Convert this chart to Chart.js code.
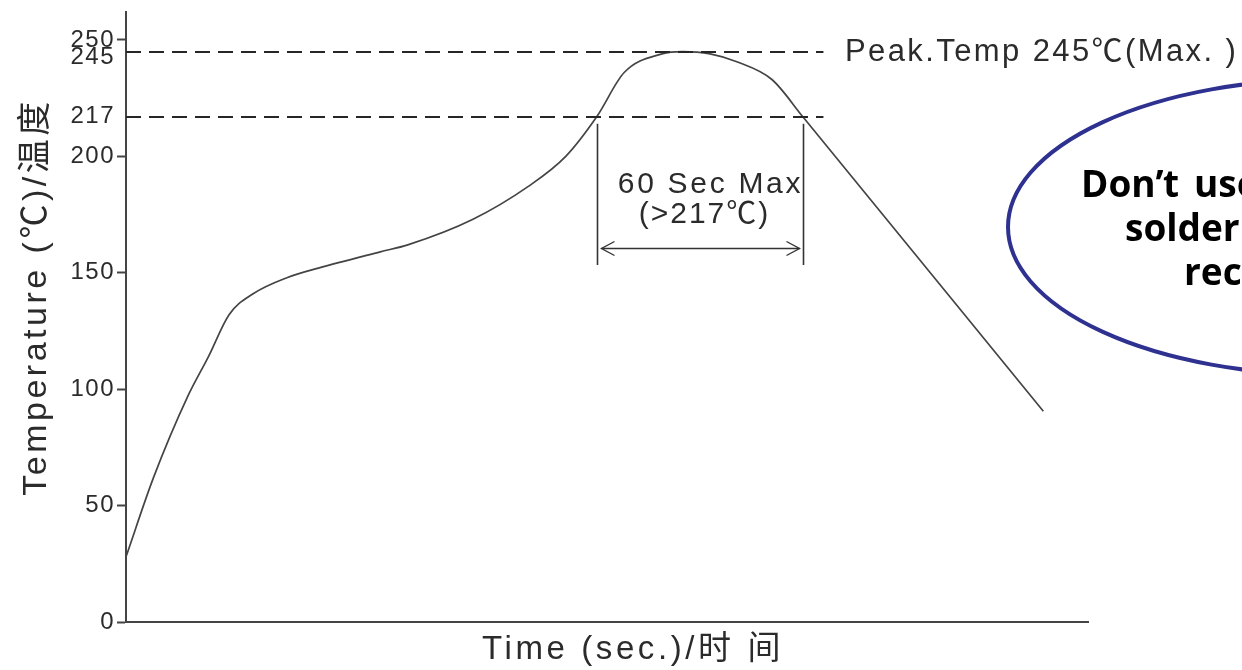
<!DOCTYPE html>
<html>
<head>
<meta charset="utf-8">
<title>Reflow profile</title>
<script src="https://cdn.jsdelivr.net/npm/chart.js@4/dist/chart.umd.min.js"></script>
<style>
  html, body { margin: 0; padding: 0; background: #fff; overflow: hidden; }
  #wrap { width: 1242px; height: 670px; position: relative; }
</style>
</head>
<body>
<div id="wrap"><canvas id="profile" width="1242" height="670"></canvas></div>
<script>
// Reflow temperature profile: time (s) against temperature (°C)
const timeSec = [0, 8, 18, 24, 30, 37, 47, 56, 74, 82, 101, 117, 128, 137, 145, 156, 162, 170, 178, 188, 197, 267];
const tempC   = [28, 62, 97, 114, 132, 141, 148, 152, 159, 162, 173, 187, 200, 217, 236, 244, 245, 244, 240.5, 233, 217, 90.5];

// Temperature axis tick values
const tempTicks = [0, 50, 100, 150, 200, 217, 245, 250];
// Levels marked with a dashed line (their ticks carry no tick mark)
const refLevels = [245, 217];
const peakTemp = 245;
const liquidus = 217;
// Time window above liquidus
const windowStart = 137;
const windowLen = 60;
const levelLineEnd = 203;

const INK = '#2b2b2b';
const LATIN = '"Liberation Sans", Arial, "Noto Sans CJK SC", sans-serif';

function setSpacing(ctx, px) {
  if ('letterSpacing' in ctx) ctx.letterSpacing = px + 'px';
}

function arrowHead(ctx, x, y, dir) {
  ctx.beginPath();
  ctx.moveTo(x + dir * 13, y - 7);
  ctx.lineTo(x, y);
  ctx.lineTo(x + dir * 13, y + 7);
  ctx.stroke();
}

const reflowNotes = {
  id: 'reflowNotes',
  beforeDraw(chart) {
    // slightly tracked digits on the temperature axis
    setSpacing(chart.ctx, 1.5);
  },
  afterDatasetsDraw(chart) {
    const { ctx, chartArea, scales: { x, y } } = chart;
    ctx.save();

    // dashed peak and liquidus levels
    ctx.strokeStyle = '#262626';
    ctx.lineWidth = 2;
    ctx.setLineDash([15, 8]);
    const xEnd = x.getPixelForValue(levelLineEnd);
    refLevels.forEach(v => {
      const py = Math.round(y.getPixelForValue(v));
      ctx.beginPath();
      ctx.moveTo(chartArea.left, py);
      ctx.lineTo(xEnd, py);
      ctx.stroke();
    });
    ctx.setLineDash([]);

    // time window above liquidus
    const yLiq = y.getPixelForValue(liquidus);
    const x0 = Math.round(x.getPixelForValue(windowStart)) + 0.5;
    const x1 = Math.round(x.getPixelForValue(windowStart + windowLen)) + 0.5;
    const yTop = yLiq + 7, yBot = 265, yArrow = 248.5;
    ctx.strokeStyle = '#333';
    ctx.lineWidth = 1.6;
    [x0, x1].forEach(px => {
      ctx.beginPath();
      ctx.moveTo(px, yTop);
      ctx.lineTo(px, yBot);
      ctx.stroke();
    });
    ctx.lineWidth = 1.4;
    ctx.beginPath();
    ctx.moveTo(x0 + 4, yArrow);
    ctx.lineTo(x1 - 4, yArrow);
    ctx.stroke();
    arrowHead(ctx, x0 + 4, yArrow, 1);
    arrowHead(ctx, x1 - 4, yArrow, -1);

    ctx.fillStyle = INK;
    ctx.textAlign = 'center';
    ctx.textBaseline = 'middle';
    ctx.font = '30px ' + LATIN;
    setSpacing(ctx, 2.7);
    const xm = (x0 + x1) / 2;
    ctx.fillText(windowLen + ' Sec Max', xm + 10, 185);
    setSpacing(ctx, 2);
    ctx.fillText('(>' + liquidus + '\u2103)', xm + 4, 215);

    // peak label
    ctx.textAlign = 'left';
    ctx.font = '31px ' + LATIN;
    setSpacing(ctx, 2.4);
    ctx.fillText('Peak.Temp ' + peakTemp + '\u2103(Max. )', 845, y.getPixelForValue(peakTemp) + 1);
    ctx.restore();
  },
  afterDraw(chart) {
    const { ctx } = chart;
    ctx.save();
    ctx.fillStyle = INK;

    // axis titles
    ctx.font = '34px ' + LATIN;
    setSpacing(ctx, 3.5);
    ctx.textAlign = 'center';
    ctx.textBaseline = 'middle';
    ctx.save();
    ctx.translate(37, 297);
    ctx.rotate(-Math.PI / 2);
    ctx.fillText('Temperature (\u2103)/温度', 0, 0);
    ctx.restore();

    ctx.font = '33px ' + LATIN;
    setSpacing(ctx, 3.6);
    ctx.fillText('Time (sec.)/时 间', 633, 650);

    // note bubble
    ctx.beginPath();
    ctx.ellipse(1330, 227, 322, 148, 0, 0, Math.PI * 2);
    ctx.strokeStyle = '#2e3190';
    ctx.lineWidth = 4;
    ctx.stroke();

    ctx.fillStyle = '#000';
    ctx.font = 'bold 37px "Open Sans", "Noto Sans", sans-serif';
    setSpacing(ctx, 0);
    ctx.textAlign = 'left';
    ctx.textBaseline = 'alphabetic';
    ctx.fillText('Don\u2019', 1081, 197);
    ctx.fillText('t', 1163, 197);
    ctx.fillText('use reflow', 1194, 197);
    ctx.fillText('soldering,', 1125, 241);
    ctx.fillText('recommended', 1184, 285);
    ctx.restore();
  }
};

new Chart(document.getElementById('profile'), {
  type: 'line',
  data: {
    datasets: [{
      data: timeSec.map((t, i) => ({ x: t, y: tempC[i] })),
      borderColor: '#444',
      borderWidth: 1.7,
      pointRadius: 0,
      cubicInterpolationMode: 'monotone',
      fill: false
    }]
  },
  options: {
    responsive: false,
    animation: false,
    layout: { padding: { left: 0, right: 154, top: 12, bottom: 0 } },
    plugins: { legend: { display: false }, tooltip: { enabled: false } },
    scales: {
      x: {
        type: 'linear',
        min: 0,
        max: 280,
        grid: { display: false },
        ticks: { display: false },
        border: { display: true, color: '#444', width: 2 },
        afterFit(scale) { scale.height = 48; scale.paddingLeft = 0; scale.paddingRight = 0; }
      },
      y: {
        type: 'linear',
        min: 0,
        max: 262,
        afterBuildTicks(scale) { scale.ticks = tempTicks.map(v => ({ value: v })); },
        afterFit(scale) { scale.width = 126; scale.paddingTop = 0; scale.paddingBottom = 0; },
        ticks: {
          autoSkip: false,
          padding: 2,
          color: INK,
          font: { family: LATIN, size: 24, lineHeight: '11px' },
          // the 245 label sits just under its level so it clears the 250 label
          callback: v => (v === peakTemp ? ['', String(v)] : String(v))
        },
        grid: {
          display: true,
          drawOnChartArea: false,
          drawTicks: true,
          tickLength: 9,
          tickWidth: 2,
          tickColor: c => (c.tick && refLevels.includes(c.tick.value)) ? 'rgba(0,0,0,0)' : '#444'
        },
        border: { display: true, color: '#444', width: 2 }
      }
    }
  },
  plugins: [reflowNotes]
});
</script>
</body>
</html>
